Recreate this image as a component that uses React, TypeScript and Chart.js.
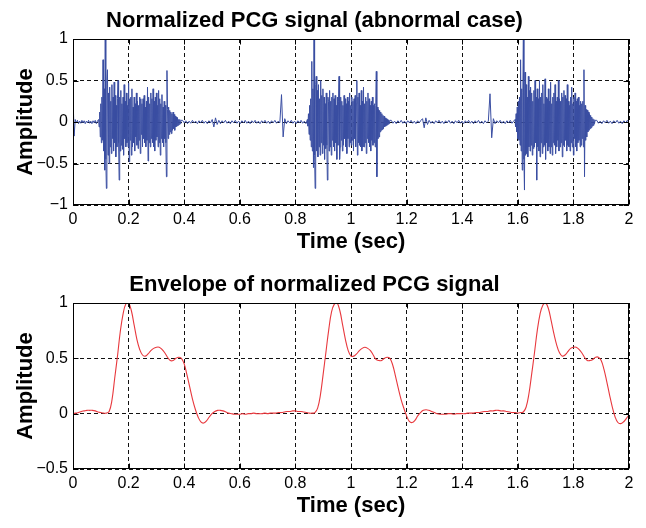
import React, { useEffect, useRef } from "react";
import { Chart, registerables } from "chart.js";

Chart.register(...registerables);

const FONT = "'Liberation Sans', Arial, Helvetica, sans-serif";

const topTitle = "Normalized PCG signal (abnormal case)";
const bottomTitle = "Envelope of normalized PCG signal";
const xTitle = "Time (sec)";
const yTitle = "Amplitude";

// ---- Normalized PCG signal, in time segments ----
// [start time, end time] of each segment (sec)
const quiet0Span = [0.0, 0.088];
const quiet0 = [0.33, -0.17, 0.03, -0.01, 0.02, -0.02, 0.01, -0.015, 0.02, -0.01, 0.015, -0.02, 0.01, -0.01, 0.02, -0.015, 0.01, -0.02, 0.015, -0.01, 0.02, -0.02, 0.01];

const beat1Span = [0.092, 0.388];
const beat1 = [
  0.03, -0.06, 0.12, -0.18, 0.22, -0.25, 0.3, -0.22, 0.75, -0.35,
  0.4, -0.58, 1.0, -0.45, -0.8, 0.5, 0.63, -0.4, 0.35, -0.5,
  0.42, -0.3, 0.25, -0.38, 0.45, -0.2, 0.3, -0.35, 0.48, -0.25,
  0.32, -0.42, 0.2, -0.3, 0.28, 0.5, -0.25, -0.7, 0.3, -0.35,
  0.38, -0.28, 0.22, -0.33, 0.3, -0.4, 0.45, -0.2, 0.25, -0.3,
  0.35, -0.25, 0.2, -0.3, 0.47, -0.48, 0.28, -0.22, 0.3, -0.4,
  0.4, -0.3, 0.18, -0.25, 0.3, -0.35, 0.22, -0.18, 0.35, -0.28,
  0.25, -0.32, 0.2, -0.22, 0.3, -0.38, 0.28, -0.15, 0.22, -0.3,
  0.28, -0.2, 0.32, -0.25, 0.18, -0.3, 0.25, -0.22, 0.42, -0.47,
  0.3, -0.25, 0.22, -0.3, 0.35, -0.2, 0.28, -0.25, 0.4, -0.3,
  0.25, -0.35, 0.3, -0.22, 0.35, -0.18, 0.2, -0.3, 0.38, -0.25,
  0.28, -0.4, 0.22, -0.2, 0.33, -0.25, 0.18, -0.3, 0.25, -0.2,
  0.2, -0.25, -0.66, 0.62, 0.15, -0.2, 0.18, -0.15, 0.14, -0.12,
  0.12, -0.14, 0.1, -0.1, 0.12, -0.08, 0.09, -0.1, 0.07, -0.06,
  0.06, -0.05, 0.05, -0.04, 0.03, -0.03, 0.03, -0.02, 0.02,
];

const quiet1Span = [0.394, 0.744];
const quiet1 = [
  0.02, -0.01, 0.015, -0.02, 0.01, -0.015, 0.02, -0.01, 0.01, -0.02,
  0.015, -0.01, 0.02, -0.015, 0.01, -0.02, 0.015, -0.01, 0.03, -0.06,
  0.05, -0.03, 0.02, -0.02, 0.015, -0.01, 0.02, -0.015, 0.01, -0.02,
  0.015, -0.01, 0.02, -0.015, 0.01, -0.02, 0.015, -0.01, 0.02, -0.015,
  0.01, -0.02, 0.015, -0.01, 0.02, -0.015, 0.01, -0.02, 0.015, -0.01,
  0.02, -0.015, 0.01, -0.02, 0.015, -0.01, 0.02, -0.015, 0.01, -0.01,
];

const quiet2Span = [0.75, 0.838];
const quiet2 = [0.33, -0.18, 0.04, -0.02, 0.015, -0.01, 0.02, -0.015, 0.01, -0.02, 0.015, -0.01, 0.02, -0.015, 0.01, -0.02];

const beat2Span = [0.843, 1.139];
const beat2 = [
  0.03, -0.05, 0.1, -0.15, 0.2, -0.22, 0.28, -0.3, 0.73, -0.35,
  0.4, -0.55, 1.0, -0.4, -0.8, 0.45, 0.55, -0.35, 0.38, -0.42,
  0.45, -0.3, 0.28, -0.4, 0.5, -0.25, 0.32, -0.38, 0.4, -0.28,
  0.3, -0.45, 0.22, -0.32, 0.35, -0.28, -0.7, 0.3, 0.25, -0.35,
  0.38, -0.3, 0.25, -0.4, 0.3, -0.22, 0.35, -0.3, 0.28, -0.35,
  0.32, -0.25, 0.2, -0.45, 0.3, -0.28, 0.25, 0.55, -0.45, -0.3,
  0.3, -0.22, 0.25, -0.35, 0.2, -0.28, 0.32, -0.2, 0.28, -0.3,
  0.22, -0.38, 0.3, -0.2, 0.25, -0.3, 0.35, -0.25, 0.2, -0.28,
  0.3, -0.22, 0.25, -0.35, 0.28, -0.2, 0.32, -0.3, 0.22, 0.5,
  -0.4, 0.3, -0.25, 0.35, -0.28, 0.2, -0.3, 0.38, -0.35, 0.25,
  -0.3, 0.42, -0.3, 0.22, -0.25, 0.3, -0.38, 0.25, -0.2, 0.35,
  -0.25, 0.28, -0.3, 0.2, -0.35, 0.25, -0.22, 0.3, -0.28, 0.2,
  -0.25, 0.22, -0.3, 0.2, 0.61, -0.66, 0.18, -0.2, 0.15, -0.18,
  0.14, -0.12, 0.12, -0.1, 0.1, -0.09, 0.08, -0.08, 0.07, -0.06,
  0.05, -0.05, 0.04, -0.04, 0.03, -0.03, 0.02, -0.02, 0.02,
];

const quiet3Span = [1.145, 1.494];
const quiet3 = [
  0.02, -0.015, 0.01, -0.02, 0.015, -0.01, 0.02, -0.015, 0.01, -0.02,
  0.015, -0.01, 0.02, -0.015, 0.01, -0.02, 0.015, -0.01, 0.02, 0.04,
  -0.07, 0.05, -0.03, 0.02, -0.015, 0.01, -0.02, 0.015, -0.01, 0.02,
  -0.015, 0.01, -0.02, 0.015, -0.01, 0.02, -0.015, 0.01, -0.02, 0.015,
  -0.01, 0.02, -0.015, 0.01, -0.02, 0.015, -0.01, 0.02, -0.015, 0.01,
  -0.02, 0.015, -0.01, 0.02, -0.015, 0.01, -0.02, 0.015, -0.01, 0.01,
];

const quiet4Span = [1.5, 1.585];
const quiet4 = [0.34, -0.19, 0.04, -0.02, 0.015, -0.01, 0.02, -0.015, 0.01, -0.02, 0.015, -0.01, 0.02, -0.015, 0.01];

const beat3Span = [1.59, 1.878];
const beat3 = [
  0.03, -0.06, 0.1, -0.12, 0.18, -0.2, 0.25, -0.22, 0.3, -0.28,
  0.75, -0.35, 0.4, -0.58, 0.35, 1.0, -0.45, -0.82, 0.6, -0.4,
  0.45, -0.38, 0.3, -0.42, 0.55, -0.3, 0.38, -0.35, 0.42, -0.28,
  0.35, -0.4, 0.25, -0.32, 0.38, -0.3, 0.5, -0.25, 0.3, -0.7,
  0.4, -0.3, 0.28, -0.35, 0.5, -0.42, 0.3, -0.25, 0.35, -0.38,
  0.45, -0.3, 0.22, -0.28, 0.52, -0.45, 0.3, -0.25, 0.28, -0.35,
  0.4, -0.3, 0.25, -0.38, 0.48, -0.3, 0.22, -0.4, 0.3, -0.25,
  0.35, -0.28, 0.45, -0.38, 0.25, -0.3, 0.3, -0.22, 0.5, -0.35,
  0.28, -0.3, 0.25, -0.25, 0.35, -0.42, 0.3, -0.28, 0.38, -0.3,
  0.32, -0.22, 0.28, -0.35, 0.45, -0.28, 0.25, -0.3, 0.2, -0.35,
  0.3, -0.25, 0.42, -0.3, 0.22, -0.4, 0.3, -0.2, 0.35, -0.3,
  0.25, -0.35, 0.28, -0.25, 0.3, -0.22, 0.2, -0.3, 0.25, -0.28,
  0.22, -0.2, 0.25, -0.3, 0.63, -0.66, 0.2, -0.22, 0.15, -0.18,
  0.14, -0.12, 0.12, -0.1, 0.1, -0.08, 0.08, -0.07, 0.06, -0.05,
  0.04, -0.04, 0.03, -0.02, 0.02,
];

const quiet5Span = [1.884, 2.0];
const quiet5 = [0.02, -0.015, 0.01, -0.02, 0.015, -0.01, 0.02, -0.015, 0.01, -0.02, 0.015, -0.01, 0.02, -0.015, 0.01, -0.02, 0.015, -0.01, 0.02, -0.01];

// ---- Envelope, one value every 0.01 s from 0 to 2 s ----
const envStep = 0.01;
const envelope = [
  0.0, 0.005, 0.01, 0.02, 0.025, 0.03, 0.03, 0.03, 0.025, 0.015,
  0.01, 0.005, 0.005, 0.02, 0.12, 0.32, 0.52, 0.74, 0.9, 0.99,
  1.0, 0.93, 0.8, 0.67, 0.58, 0.53, 0.52, 0.54, 0.57, 0.59,
  0.6, 0.6, 0.58, 0.55, 0.51, 0.48, 0.48, 0.5, 0.51, 0.5,
  0.45, 0.35, 0.24, 0.13, 0.04, -0.03, -0.075, -0.085, -0.065, -0.03,
  0.0, 0.02, 0.03, 0.03, 0.025, 0.015, 0.005, 0.0, -0.005, -0.005,
  -0.005, 0.0, -0.005, 0.0, 0.0, 0.005, 0.0, 0.0, 0.0, 0.005,
  0.0, 0.005, 0.005, 0.005, 0.01, 0.01, 0.015, 0.02, 0.02, 0.025,
  0.025, 0.02, 0.02, 0.015, 0.01, 0.005, 0.005, 0.01, 0.05, 0.17,
  0.36, 0.56, 0.76, 0.92, 0.99, 1.0, 0.93, 0.8, 0.67, 0.57,
  0.52, 0.52, 0.54, 0.57, 0.59, 0.6, 0.59, 0.57, 0.53, 0.49,
  0.48, 0.48, 0.5, 0.51, 0.5, 0.44, 0.34, 0.23, 0.13, 0.05,
  -0.02, -0.07, -0.08, -0.06, -0.02, 0.01, 0.03, 0.035, 0.03, 0.02,
  0.01, 0.0, -0.005, -0.005, -0.005, 0.0, 0.0, -0.005, 0.0, 0.0,
  0.0, 0.0, 0.005, 0.005, 0.005, 0.01, 0.01, 0.015, 0.02, 0.02,
  0.025, 0.025, 0.03, 0.03, 0.025, 0.025, 0.02, 0.015, 0.01, 0.01,
  0.005, 0.01, 0.015, 0.06, 0.18, 0.36, 0.55, 0.75, 0.9, 0.98,
  1.0, 0.95, 0.84, 0.72, 0.62, 0.55, 0.52, 0.53, 0.56, 0.59,
  0.6, 0.6, 0.58, 0.55, 0.51, 0.48, 0.48, 0.49, 0.51, 0.51,
  0.48, 0.4, 0.29, 0.17, 0.06, -0.03, -0.08, -0.09, -0.075, -0.045,
  -0.01,
];

const xMin = 0;
const xMax = 2;
const xStep = 0.2;
const topYMin = -1;
const topYMax = 1;
const bottomYMin = -0.5;
const bottomYMax = 1;
const yStep = 0.5;

const PCG_COLOR = "#3a4ea2";
const ENV_COLOR = "#e8383d";

function segment(span: number[], vals: number[]) {
  const [t0, t1] = span;
  const n = vals.length;
  return vals.map((v, i) => ({ x: t0 + ((t1 - t0) * i) / (n - 1), y: v }));
}

const pcgPoints = [
  ...segment(quiet0Span, quiet0),
  ...segment(beat1Span, beat1),
  ...segment(quiet1Span, quiet1),
  ...segment(quiet2Span, quiet2),
  ...segment(beat2Span, beat2),
  ...segment(quiet3Span, quiet3),
  ...segment(quiet4Span, quiet4),
  ...segment(beat3Span, beat3),
  ...segment(quiet5Span, quiet5),
];

const envPoints = envelope.map((v, i) => ({ x: i * envStep, y: v }));

function fmtNum(v: number) {
  const r = Math.round(v * 10) / 10;
  if (r < 0) return "\u2212" + String(Math.abs(r));
  return String(r);
}

const framePlugin = {
  id: "matlabFrame",
  afterDatasetsDraw(chart: any) {
    const { ctx, chartArea } = chart;
    const l = Math.round(chartArea.left) + 0.5;
    const r = Math.round(chartArea.right) - 0.5;
    const t = Math.round(chartArea.top) + 0.5;
    const b = Math.round(chartArea.bottom) - 0.5;
    ctx.save();
    ctx.setLineDash([]);
    ctx.strokeStyle = "#000";
    ctx.lineWidth = 1;
    ctx.strokeRect(l, t, r - l, b - t);
    const tickLen = 5;
    ctx.beginPath();
    const xs = chart.scales.x;
    xs.ticks.forEach((tk: any) => {
      const px = Math.round(xs.getPixelForValue(tk.value)) + 0.5;
      ctx.moveTo(px, b);
      ctx.lineTo(px, b - tickLen);
      ctx.moveTo(px, t);
      ctx.lineTo(px, t + tickLen);
    });
    const ys = chart.scales.y;
    ys.ticks.forEach((tk: any) => {
      const py = Math.round(ys.getPixelForValue(tk.value)) + 0.5;
      ctx.moveTo(l, py);
      ctx.lineTo(l + tickLen, py);
      ctx.moveTo(r, py);
      ctx.lineTo(r - tickLen, py);
    });
    ctx.stroke();
    ctx.restore();
  },
};

function makeConfig(title: string, points: any[], color: string, yMin: number, yMax: number, width: number, tension: number): any {
  return {
    type: "line",
    data: {
      datasets: [
        {
          data: points,
          borderColor: color,
          borderWidth: width,
          pointRadius: 0,
          tension,
          fill: false,
        },
      ],
    },
    options: {
      responsive: false,
      animation: false,
      events: [],
      layout: { padding: { left: 0, right: 17, top: 0, bottom: 0 } },
      plugins: {
        legend: { display: false },
        tooltip: { enabled: false },
        title: {
          display: true,
          text: title,
          color: "#000",
          font: { family: FONT, size: 22, weight: "bold", lineHeight: 1.2 },
          padding: { top: 8, bottom: 4.6 },
        },
      },
      scales: {
        x: {
          type: "linear",
          min: xMin,
          max: xMax,
          afterFit: (s: any) => {
            s.height = 59;
          },
          ticks: {
            stepSize: xStep,
            autoSkip: false,
            maxRotation: 0,
            padding: 5,
            color: "#000",
            font: { family: FONT, size: 16 },
            callback: (v: any) => fmtNum(Number(v)),
          },
          grid: { color: "#111", lineWidth: 1, drawTicks: false },
          border: { display: false, dash: [4, 3] },
          title: {
            display: true,
            text: xTitle,
            color: "#000",
            font: { family: FONT, size: 22, weight: "bold", lineHeight: 1.2 },
            padding: { top: 0, bottom: 8.5 },
          },
        },
        y: {
          min: yMin,
          max: yMax,
          afterFit: (s: any) => {
            s.width = 73;
          },
          ticks: {
            stepSize: yStep,
            padding: 5,
            color: "#000",
            font: { family: FONT, size: 16 },
            callback: (v: any) => fmtNum(Number(v)),
          },
          grid: { color: "#111", lineWidth: 1, drawTicks: false },
          border: { display: false, dash: [4, 3] },
          title: {
            display: true,
            text: yTitle,
            color: "#000",
            font: { family: FONT, size: 22, weight: "bold", lineHeight: 1.2 },
            padding: { top: 13, bottom: 0 },
          },
        },
      },
    },
    plugins: [framePlugin],
  };
}

export default function App() {
  const topRef = useRef<HTMLCanvasElement | null>(null);
  const bottomRef = useRef<HTMLCanvasElement | null>(null);

  useEffect(() => {
    const c1 = new Chart(topRef.current as HTMLCanvasElement, makeConfig(topTitle, pcgPoints, PCG_COLOR, topYMin, topYMax, 1, 0));
    const c2 = new Chart(bottomRef.current as HTMLCanvasElement, makeConfig(bottomTitle, envPoints, ENV_COLOR, bottomYMin, bottomYMax, 1.1, 0.4));
    return () => {
      c1.destroy();
      c2.destroy();
    };
  }, []);

  return (
    <div style={{ position: "absolute", left: 0, top: 0, width: 646, height: 528, background: "#fff" }}>
      <canvas ref={topRef} width={646} height={264} style={{ position: "absolute", left: 0, top: 0, display: "block" }} />
      <canvas ref={bottomRef} width={646} height={264} style={{ position: "absolute", left: 0, top: 264, display: "block" }} />
    </div>
  );
}
